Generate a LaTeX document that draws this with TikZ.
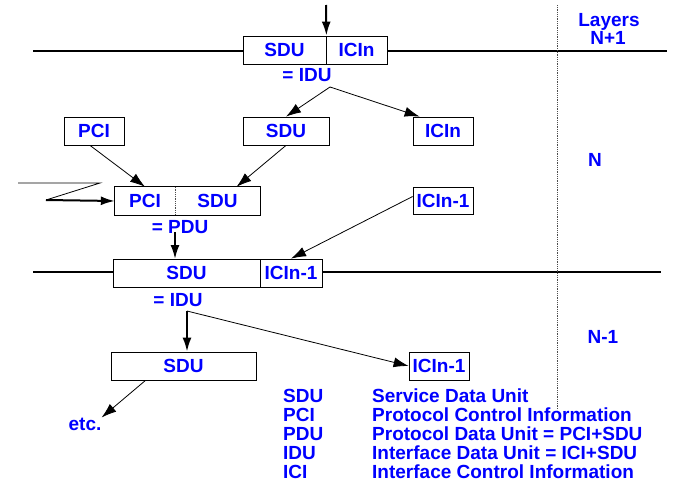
\documentclass[tikz,border=0pt]{standalone}
\usepackage{fontspec}
\setmainfont{Liberation Sans}
\usepackage{tikz}
\usetikzlibrary{arrows.meta}
\tikzset{
unit/.style = { rectangle, draw = black, line width = 0.8pt, minimum height = 28pt, inner sep = 0pt, text = blue, font = \bfseries\fontsize{19}{20}\selectfont },
part/.style = { rectangle, draw = none, minimum height = 28pt, inner sep = 0pt, text = blue, font = \bfseries\fontsize{19}{20}\selectfont },
lbl/.style = { inner sep = 0pt, text = blue, font = \bfseries\fontsize{19}{20}\selectfont },
layer line/.style = { draw = black, line width = 2pt },
thin arrow/.style = { draw = black, line width = 0.8pt, -{Latex[length = 15pt, width = 10pt]} },
thick arrow/.style = { draw = black, line width = 2pt, -{Latex[length = 14pt, width = 9pt]} },
divider/.style = { draw = black!70, line width = 0.8pt, densely dotted },
}
\begin{document}
\begin{tikzpicture}[x = 1pt, y = -1pt]
    \useasboundingbox (0, 0) rectangle (675, 485);
    % layer N+1
    \node[unit, minimum width = 83pt] (sduA) at (284.5, 50) {SDU};
    \node[unit, minimum width = 61pt] (icinA) at (356.5, 50) {ICIn};
    \node[lbl] (iduA) at (307, 75) {= IDU};
    \coordinate (topin) at (326, 5);
    \coordinate (splitA) at (330, 87);
    % layer N
    \node[unit, minimum width = 60pt] (pciB) at (94, 131) {PCI};
    \node[unit, minimum width = 86pt] (sduB) at (286, 131) {SDU};
    \node[unit, minimum width = 60pt] (icinB) at (443, 131) {ICIn};
    \node[part, minimum width = 60pt] (pciC) at (145, 201) {PCI};
    \node[part, minimum width = 85pt] (sduC) at (217.5, 201) {SDU};
    \draw[line width = 0.8pt] (pciC.north west) rectangle (sduC.south east);
    \draw[divider] (pciC.north east) -- (pciC.south east);
    \node[lbl] (pdu) at (180, 227) {= PDU};
    \node[unit, minimum width = 60pt, minimum height = 27pt] (icinC) at (443, 200.5) {ICIn-1};
    \coordinate (zigA) at (18, 183);
    \coordinate (zigB) at (100, 183);
    \coordinate (zigC) at (46, 200);
    % layer N-1
    \node[unit, minimum width = 147pt] (sduD) at (186.5, 273) {SDU};
    \node[unit, minimum width = 62pt] (icinD) at (291, 273) {ICIn-1};
    \node[lbl] (iduB) at (178, 300) {= IDU};
    \coordinate (splitB) at (187, 311);
    \node[unit, minimum width = 145pt] (sduE) at (183.5, 366) {SDU};
    \node[unit, minimum width = 60pt] (icinE) at (439, 366) {ICIn-1};
    \node[lbl] (etc) at (85, 424) {etc.};
    % layers
    \draw[layer line] (33, 51) -- (sduA.west |- 0, 51);
    \draw[layer line] (icinA.east |- 0, 51) -- (667, 51);
    \draw[layer line] (33, 272) -- (sduD.west |- 0, 272);
    \draw[layer line] (icinD.east |- 0, 272) -- (661, 272);
    \draw[divider] (557, 5) -- (557, 410);
    \node[lbl] (layers) at (609, 22) {Layers};
    \node[lbl] (lnp) at (608, 38) {N+1};
    \node[lbl] (ln) at (595, 160) {N};
    \node[lbl] (lnm) at (603, 337) {N-1};
    % arrows
    \draw[thick arrow] (topin) -- (sduA.north east);
    \draw[thin arrow] (splitA) -- (sduB.north);
    \draw[thin arrow] (splitA) -- ([xshift = 7pt]icinB.north west);
    \draw[thin arrow] ([xshift = -4pt]pciB.south) -- (pciC.north);
    \draw[thin arrow] (sduB.south) -- ([xshift = 19pt]sduC.north);
    \draw[line width = 0.8pt] (zigA) -- (zigB) -- (zigC);
    \draw[thick arrow] (zigC) -- (pciC.west);
    \draw[thick arrow] (175, 232) -- (175, 259);
    \draw[thin arrow] ([yshift = 4pt]icinC.west) -- (icinD.north);
    \draw[thick arrow] (splitB) -- (splitB |- sduE.north);
    \draw[thin arrow] (splitB) -- (icinE.west);
    \draw[thin arrow] ([xshift = -38pt]sduE.south) -- (etc.north east);
    % legend
    \node[lbl, anchor = west] (kSDU) at (283, 396) {SDU};
    \node[lbl, anchor = west] (kPCI) at (283, 415) {PCI};
    \node[lbl, anchor = west] (kPDU) at (283, 434) {PDU};
    \node[lbl, anchor = west] (kIDU) at (283, 453) {IDU};
    \node[lbl, anchor = west] (kICI) at (283, 472) {ICI};
    \node[lbl, anchor = west] (vSDU) at (372, 396) {Service Data Unit};
    \node[lbl, anchor = west] (vPCI) at (372, 415) {Protocol Control Information};
    \node[lbl, anchor = west] (vPDU) at (372, 434) {Protocol Data Unit = PCI+SDU};
    \node[lbl, anchor = west] (vIDU) at (372, 453) {Interface Data Unit = ICI+SDU};
    \node[lbl, anchor = west] (vICI) at (372, 472) {Interface Control Information};
\end{tikzpicture}
\end{document}
